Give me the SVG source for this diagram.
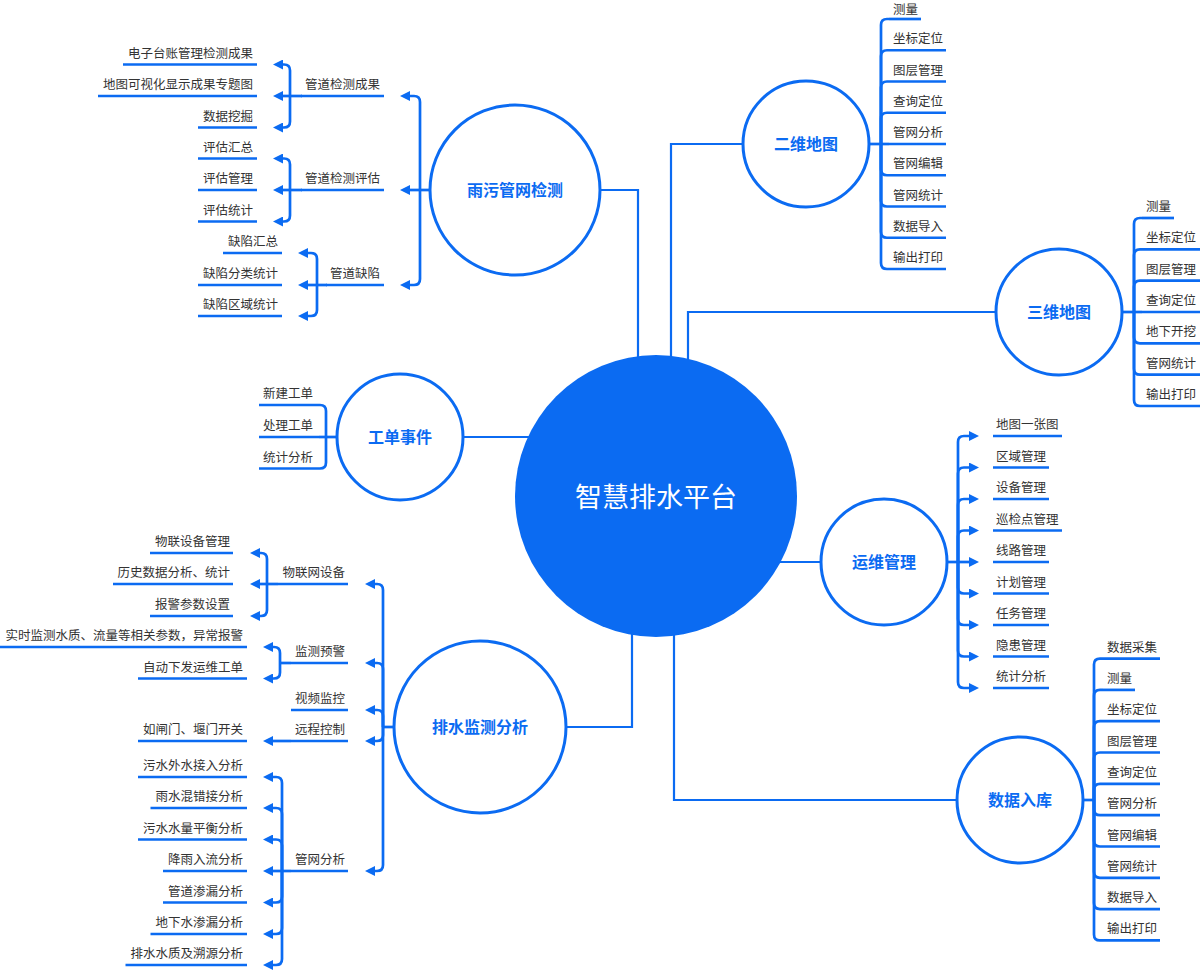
<svg xmlns="http://www.w3.org/2000/svg" width="1200" height="972" viewBox="0 0 1200 972">
<style>
.c{fill:#fff;stroke:#0B6BF2;stroke-width:3}
.lab{font-family:"Noto Sans CJK SC",sans-serif;font-weight:bold;font-size:16px;fill:#0B6BF2;text-anchor:middle}
.t{font-family:"Noto Sans CJK SC",sans-serif;font-size:12.5px;fill:#333}
.e{text-anchor:end}
.u{stroke:#0B6BF2;stroke-width:2.7;fill:none}
.m{fill:none;stroke:#0B6BF2;stroke-width:2.2}
.k{fill:none;stroke:#0B6BF2;stroke-width:2.7}
.a{marker-end:url(#arr)}
</style>
<defs>
<marker id="arr" viewBox="0 0 10 10" refX="6" refY="5" markerWidth="10" markerHeight="10" markerUnits="userSpaceOnUse" orient="auto">
<path d="M0,0 L10,5 L0,10 z" fill="#0B6BF2"/>
</marker>
</defs>
<rect width="1200" height="972" fill="#fff"/>

<g id="connectors">
<path class="m" d="M600 190 H638 V360"/>
<path class="m" d="M743 144 H671 V362"/>
<path class="m" d="M996 312 H688 V364"/>
<path class="m" d="M463 437 H530"/>
<path class="m" d="M778 562 H821"/>
<path class="m" d="M566 727 H632 V630"/>
<path class="m" d="M957 800 H674 V630"/>

<path class="k a" d="M420 190 V102 Q420 96 414 96 H404"/>
<path class="k a" d="M430 190 H404"/>
<path class="k a" d="M420 190 V279 Q420 285 414 285 H404"/>
<path class="k a" d="M302 96 H277"/>
<path class="k a" d="M290 96 V70.5 Q290 64.5 284 64.5 H277"/>
<path class="k a" d="M290 96 V121.5 Q290 127.5 284 127.5 H277"/>
<path class="k a" d="M302 190 H277"/>
<path class="k a" d="M290 190 V164.5 Q290 158.5 284 158.5 H277"/>
<path class="k a" d="M290 190 V215.5 Q290 221.5 284 221.5 H277"/>
<path class="k a" d="M327 285 H302"/>
<path class="k a" d="M317 285 V259 Q317 253 311 253 H302"/>
<path class="k a" d="M317 285 V310 Q317 316 311 316 H302"/>

<path class="k" d="M338 437 H319"/>
<path class="k" d="M326 437 V411 Q326 405 320 405 H319"/>
<path class="k" d="M326 437 V462.5 Q326 468.5 320 468.5 H319"/>

<path class="k" d="M394 727 H383"/>
<path class="k a" d="M383 727 V590 Q383 584 377 584 H369"/>
<path class="k a" d="M383 727 V669 Q383 663 377 663 H369"/>
<path class="k a" d="M383 727 V716 Q383 710 377 710 H369"/>
<path class="k a" d="M383 727 V735 Q383 741 377 741 H369"/>
<path class="k a" d="M383 727 V865 Q383 871 377 871 H369"/>
<path class="k a" d="M278 584 H254"/>
<path class="k a" d="M267 584 V559 Q267 553 261 553 H254"/>
<path class="k a" d="M267 584 V610 Q267 616 261 616 H254"/>
<path class="k" d="M291 663 H280"/>
<path class="k a" d="M280 663 V653 Q280 647 274 647 H267"/>
<path class="k a" d="M280 663 V672.5 Q280 678.5 274 678.5 H267"/>
<path class="k a" d="M291 741 H267"/>
<path class="k a" d="M291 871 H267"/>
<path class="k a" d="M282 871 V783 Q282 777 276 777 H267"/>
<path class="k a" d="M282 871 V814 Q282 808 276 808 H267"/>
<path class="k a" d="M282 871 V845.5 Q282 839.5 276 839.5 H267"/>
<path class="k a" d="M282 871 V896.5 Q282 902.5 276 902.5 H267"/>
<path class="k a" d="M282 871 V928 Q282 934 276 934 H267"/>
<path class="k a" d="M282 871 V959 Q282 965 276 965 H267"/>

<path class="k" d="M869 144 H889"/>
<path class="k" d="M881 144 V25 Q881 19 887 19 H889"/>
<path class="k" d="M881 144 V56.25 Q881 50.25 887 50.25 H889"/>
<path class="k" d="M881 144 V87.5 Q881 81.5 887 81.5 H889"/>
<path class="k" d="M881 144 V118.75 Q881 112.75 887 112.75 H889"/>
<path class="k" d="M881 144 V169.25 Q881 175.25 887 175.25 H889"/>
<path class="k" d="M881 144 V200.5 Q881 206.5 887 206.5 H889"/>
<path class="k" d="M881 144 V231.75 Q881 237.75 887 237.75 H889"/>
<path class="k" d="M881 144 V263 Q881 269 887 269 H889"/>

<path class="k" d="M1123 312 H1142"/>
<path class="k" d="M1134 312 V224 Q1134 218 1140 218 H1142"/>
<path class="k" d="M1134 312 V255.3 Q1134 249.3 1140 249.3 H1142"/>
<path class="k" d="M1134 312 V286.7 Q1134 280.7 1140 280.7 H1142"/>
<path class="k" d="M1134 312 V337.3 Q1134 343.3 1140 343.3 H1142"/>
<path class="k" d="M1134 312 V368.7 Q1134 374.7 1140 374.7 H1142"/>
<path class="k" d="M1134 312 V400 Q1134 406 1140 406 H1142"/>

<path class="k a" d="M947 562 H975"/>
<path class="k a" d="M958 562 V442 Q958 436 964 436 H975"/>
<path class="k a" d="M958 562 V473.5 Q958 467.5 964 467.5 H975"/>
<path class="k a" d="M958 562 V505 Q958 499 964 499 H975"/>
<path class="k a" d="M958 562 V536.5 Q958 530.5 964 530.5 H975"/>
<path class="k a" d="M958 562 V587.5 Q958 593.5 964 593.5 H975"/>
<path class="k a" d="M958 562 V619 Q958 625 964 625 H975"/>
<path class="k a" d="M958 562 V650.5 Q958 656.5 964 656.5 H975"/>
<path class="k a" d="M958 562 V682 Q958 688 964 688 H975"/>

<path class="k" d="M1083 800 H1094"/>
<path class="k" d="M1094 800 V664.6 Q1094 658.6 1100 658.6 H1103"/>
<path class="k" d="M1094 800 V695.9 Q1094 689.9 1100 689.9 H1103"/>
<path class="k" d="M1094 800 V727.2 Q1094 721.2 1100 721.2 H1103"/>
<path class="k" d="M1094 800 V758.5 Q1094 752.5 1100 752.5 H1103"/>
<path class="k" d="M1094 800 V789.8 Q1094 783.8 1100 783.8 H1103"/>
<path class="k" d="M1094 800 V809.2 Q1094 815.2 1100 815.2 H1103"/>
<path class="k" d="M1094 800 V840.5 Q1094 846.5 1100 846.5 H1103"/>
<path class="k" d="M1094 800 V871.8 Q1094 877.8 1100 877.8 H1103"/>
<path class="k" d="M1094 800 V903.1 Q1094 909.1 1100 909.1 H1103"/>
<path class="k" d="M1094 800 V934.4 Q1094 940.4 1100 940.4 H1103"/>
</g>

<g id="center">
<circle cx="656" cy="496" r="141" fill="#0B6BF2"/>
<text x="656" y="507" font-family="Noto Sans CJK SC, sans-serif" font-size="27" fill="#fff" text-anchor="middle">智慧排水平台</text>
</g>

<g id="n-yuwu"><circle class="c" cx="515" cy="190" r="85"/><text class="lab" x="515" y="196">雨污管网检测</text></g>
<g id="n-2d"><circle class="c" cx="806" cy="144" r="63"/><text class="lab" x="806" y="150">二维地图</text></g>
<g id="n-3d"><circle class="c" cx="1059" cy="312" r="63"/><text class="lab" x="1059" y="318">三维地图</text></g>
<g id="n-gd"><circle class="c" cx="400" cy="437" r="63"/><text class="lab" x="400" y="443">工单事件</text></g>
<g id="n-yw"><circle class="c" cx="884" cy="562" r="63"/><text class="lab" x="884" y="568">运维管理</text></g>
<g id="n-sj"><circle class="c" cx="1020" cy="800" r="63"/><text class="lab" x="1020" y="806">数据入库</text></g>
<g id="n-ps"><circle class="c" cx="480" cy="727" r="86"/><text class="lab" x="480" y="733">排水监测分析</text></g>

<g id="yw-cg"><text class="t e" x="380" y="89">管道检测成果</text><path class="u" d="M301 96 H384"/></g>
<g id="yw-pg"><text class="t e" x="380" y="183">管道检测评估</text><path class="u" d="M301 190 H384"/></g>
<g id="yw-qx"><text class="t e" x="380" y="278">管道缺陷</text><path class="u" d="M326 285 H384"/></g>
<g id="yw-cg1"><text class="t e" x="253" y="57.5">电子台账管理检测成果</text><path class="u" d="M123 64.5 H257"/></g>
<g id="yw-cg2"><text class="t e" x="253" y="89">地图可视化显示成果专题图</text><path class="u" d="M98 96 H257"/></g>
<g id="yw-cg3"><text class="t e" x="253" y="120.5">数据挖掘</text><path class="u" d="M198 127.5 H257"/></g>
<g id="yw-pg1"><text class="t e" x="253" y="151.5">评估汇总</text><path class="u" d="M198 158.5 H257"/></g>
<g id="yw-pg2"><text class="t e" x="253" y="183">评估管理</text><path class="u" d="M198 190 H257"/></g>
<g id="yw-pg3"><text class="t e" x="253" y="214.5">评估统计</text><path class="u" d="M198 221.5 H257"/></g>
<g id="yw-qx1"><text class="t e" x="278" y="246">缺陷汇总</text><path class="u" d="M223 253 H282"/></g>
<g id="yw-qx2"><text class="t e" x="278" y="278">缺陷分类统计</text><path class="u" d="M198 285 H282"/></g>
<g id="yw-qx3"><text class="t e" x="278" y="309">缺陷区域统计</text><path class="u" d="M198 316 H282"/></g>

<g id="gd-1"><text class="t" x="263" y="398">新建工单</text><path class="u" d="M259 405 H319"/></g>
<g id="gd-2"><text class="t" x="263" y="430">处理工单</text><path class="u" d="M259 437 H319"/></g>
<g id="gd-3"><text class="t" x="263" y="461.5">统计分析</text><path class="u" d="M259 468.5 H319"/></g>

<g id="ps-wl"><text class="t e" x="345" y="577">物联网设备</text><path class="u" d="M278 584 H348"/></g>
<g id="ps-jc"><text class="t e" x="345" y="656">监测预警</text><path class="u" d="M291 663 H348"/></g>
<g id="ps-sp"><text class="t e" x="345" y="703">视频监控</text><path class="u" d="M291 710 H348"/></g>
<g id="ps-yc"><text class="t e" x="345" y="734">远程控制</text><path class="u" d="M291 741 H348"/></g>
<g id="ps-gw"><text class="t e" x="345" y="864">管网分析</text><path class="u" d="M291 871 H348"/></g>
<g id="ps-wl1"><text class="t e" x="230" y="546">物联设备管理</text><path class="u" d="M150 553 H233"/></g>
<g id="ps-wl2"><text class="t e" x="230" y="577">历史数据分析、统计</text><path class="u" d="M113 584 H233"/></g>
<g id="ps-wl3"><text class="t e" x="230" y="609">报警参数设置</text><path class="u" d="M150 616 H233"/></g>
<g id="ps-jc1"><text class="t e" x="243" y="640">实时监测水质、流量等相关参数，异常报警</text><path class="u" d="M0 647 H247"/></g>
<g id="ps-jc2"><text class="t e" x="243" y="671.5">自动下发运维工单</text><path class="u" d="M138 678.5 H247"/></g>
<g id="ps-yc1"><text class="t e" x="243" y="734">如闸门、堰门开关</text><path class="u" d="M138 741 H247"/></g>
<g id="ps-gw1"><text class="t e" x="243" y="770">污水外水接入分析</text><path class="u" d="M138 777 H247"/></g>
<g id="ps-gw2"><text class="t e" x="243" y="801">雨水混错接分析</text><path class="u" d="M150.5 808 H247"/></g>
<g id="ps-gw3"><text class="t e" x="243" y="832.5">污水水量平衡分析</text><path class="u" d="M138 839.5 H247"/></g>
<g id="ps-gw4"><text class="t e" x="243" y="864">降雨入流分析</text><path class="u" d="M163 871 H247"/></g>
<g id="ps-gw5"><text class="t e" x="243" y="895.5">管道渗漏分析</text><path class="u" d="M163 902.5 H247"/></g>
<g id="ps-gw6"><text class="t e" x="243" y="927">地下水渗漏分析</text><path class="u" d="M150.5 934 H247"/></g>
<g id="ps-gw7"><text class="t e" x="243" y="958">排水水质及溯源分析</text><path class="u" d="M125.5 965 H247"/></g>

<g id="2d-1"><text class="t" x="893" y="13.5">测量</text><path class="u" d="M889 19 H921"/></g>
<g id="2d-2"><text class="t" x="893" y="43.25">坐标定位</text><path class="u" d="M889 50.25 H946"/></g>
<g id="2d-3"><text class="t" x="893" y="74.5">图层管理</text><path class="u" d="M889 81.5 H946"/></g>
<g id="2d-4"><text class="t" x="893" y="105.75">查询定位</text><path class="u" d="M889 112.75 H946"/></g>
<g id="2d-5"><text class="t" x="893" y="137">管网分析</text><path class="u" d="M889 144 H946"/></g>
<g id="2d-6"><text class="t" x="893" y="168.25">管网编辑</text><path class="u" d="M889 175.25 H946"/></g>
<g id="2d-7"><text class="t" x="893" y="199.5">管网统计</text><path class="u" d="M889 206.5 H946"/></g>
<g id="2d-8"><text class="t" x="893" y="230.75">数据导入</text><path class="u" d="M889 237.75 H946"/></g>
<g id="2d-9"><text class="t" x="893" y="262">输出打印</text><path class="u" d="M889 269 H946"/></g>

<g id="3d-1"><text class="t" x="1146" y="211">测量</text><path class="u" d="M1142 218 H1174"/></g>
<g id="3d-2"><text class="t" x="1146" y="242.3">坐标定位</text><path class="u" d="M1142 249.3 H1200"/></g>
<g id="3d-3"><text class="t" x="1146" y="273.7">图层管理</text><path class="u" d="M1142 280.7 H1200"/></g>
<g id="3d-4"><text class="t" x="1146" y="305">查询定位</text><path class="u" d="M1142 312 H1200"/></g>
<g id="3d-5"><text class="t" x="1146" y="336.3">地下开挖</text><path class="u" d="M1142 343.3 H1200"/></g>
<g id="3d-6"><text class="t" x="1146" y="367.7">管网统计</text><path class="u" d="M1142 374.7 H1200"/></g>
<g id="3d-7"><text class="t" x="1146" y="399">输出打印</text><path class="u" d="M1142 406 H1200"/></g>

<g id="ywg-1"><text class="t" x="996" y="429">地图一张图</text><path class="u" d="M993 436 H1062"/></g>
<g id="ywg-2"><text class="t" x="996" y="460.5">区域管理</text><path class="u" d="M993 467.5 H1049"/></g>
<g id="ywg-3"><text class="t" x="996" y="492">设备管理</text><path class="u" d="M993 499 H1049"/></g>
<g id="ywg-4"><text class="t" x="996" y="523.5">巡检点管理</text><path class="u" d="M993 530.5 H1062"/></g>
<g id="ywg-5"><text class="t" x="996" y="555">线路管理</text><path class="u" d="M993 562 H1049"/></g>
<g id="ywg-6"><text class="t" x="996" y="586.5">计划管理</text><path class="u" d="M993 593.5 H1049"/></g>
<g id="ywg-7"><text class="t" x="996" y="618">任务管理</text><path class="u" d="M993 625 H1049"/></g>
<g id="ywg-8"><text class="t" x="996" y="649.5">隐患管理</text><path class="u" d="M993 656.5 H1049"/></g>
<g id="ywg-9"><text class="t" x="996" y="681">统计分析</text><path class="u" d="M993 688 H1049"/></g>

<g id="sj-1"><text class="t" x="1107" y="651.6">数据采集</text><path class="u" d="M1103 658.6 H1160"/></g>
<g id="sj-2"><text class="t" x="1107" y="682.9">测量</text><path class="u" d="M1103 689.9 H1135"/></g>
<g id="sj-3"><text class="t" x="1107" y="714.2">坐标定位</text><path class="u" d="M1103 721.2 H1160"/></g>
<g id="sj-4"><text class="t" x="1107" y="745.5">图层管理</text><path class="u" d="M1103 752.5 H1160"/></g>
<g id="sj-5"><text class="t" x="1107" y="776.8">查询定位</text><path class="u" d="M1103 783.8 H1160"/></g>
<g id="sj-6"><text class="t" x="1107" y="808.2">管网分析</text><path class="u" d="M1103 815.2 H1160"/></g>
<g id="sj-7"><text class="t" x="1107" y="839.5">管网编辑</text><path class="u" d="M1103 846.5 H1160"/></g>
<g id="sj-8"><text class="t" x="1107" y="870.8">管网统计</text><path class="u" d="M1103 877.8 H1160"/></g>
<g id="sj-9"><text class="t" x="1107" y="902.1">数据导入</text><path class="u" d="M1103 909.1 H1160"/></g>
<g id="sj-10"><text class="t" x="1107" y="933.4">输出打印</text><path class="u" d="M1103 940.4 H1160"/></g>
</svg>
